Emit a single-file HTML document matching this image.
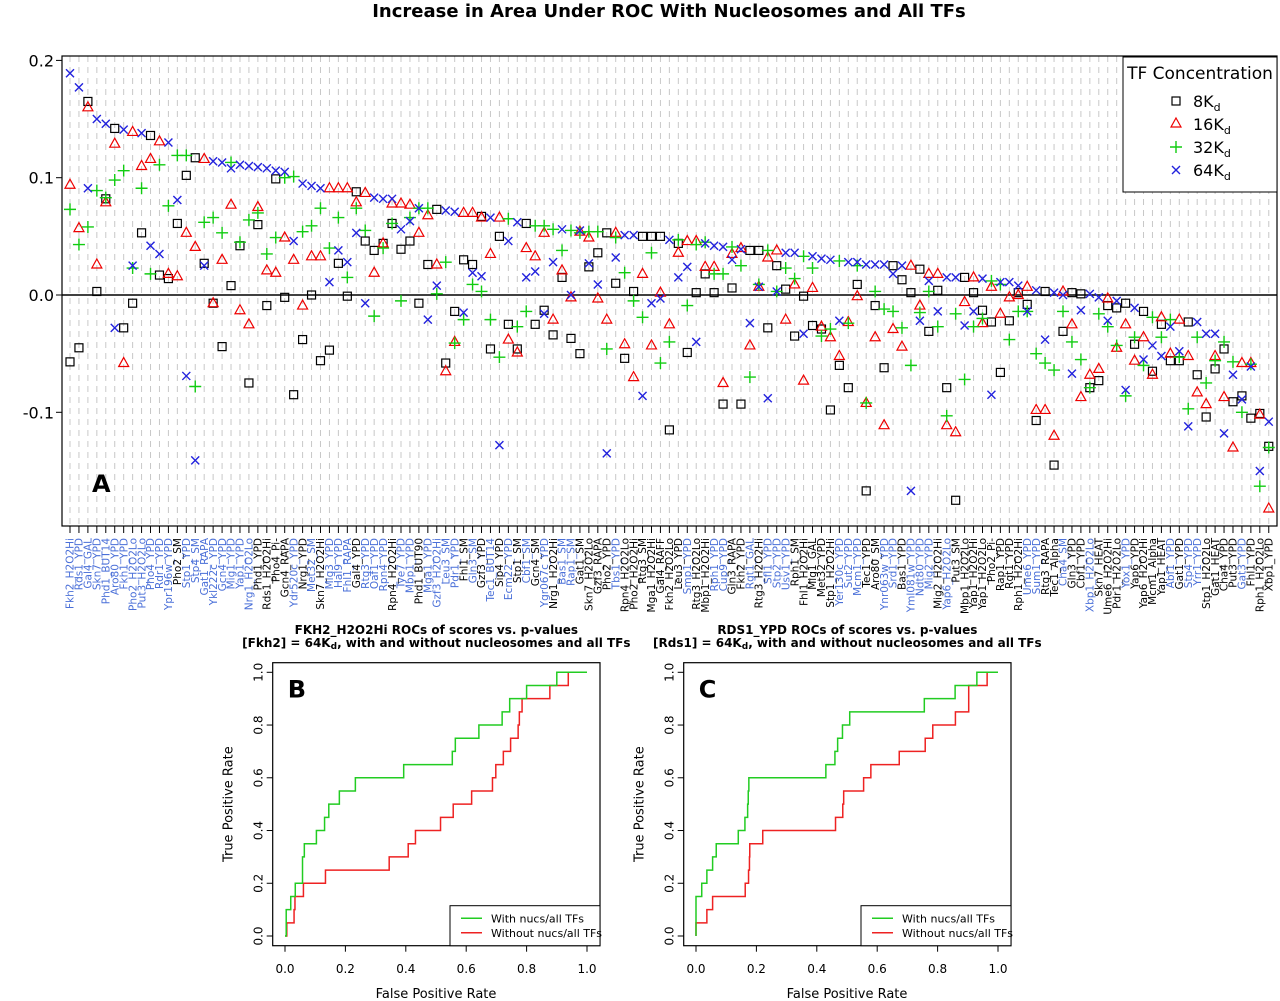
<!DOCTYPE html>
<html><head><meta charset="utf-8"><style>
html,body{margin:0;padding:0;background:#fff}
svg{display:block}
text{font-family:"DejaVu Sans","Liberation Sans",sans-serif}
</style></head><body>
<svg id="fig" width="1280" height="1001" viewBox="0 0 1280 1001" xmlns="http://www.w3.org/2000/svg">
<rect width="1280" height="1001" fill="#fff"/>
<text x="669" y="17" text-anchor="middle" font-size="18" font-weight="bold">Increase in Area Under ROC With Nucleosomes and All TFs</text>
<g id="panelA"></g>
<g id="legendA">
<rect x="1123" y="57" width="154" height="135" fill="#fff" stroke="#000" stroke-width="1"/>
<text x="1200" y="79" text-anchor="middle" font-size="17">TF Concentration</text>
<rect x="1172" y="97" width="8" height="8" fill="none" stroke="#000" stroke-width="1.2"/>
<text x="1193" y="107" font-size="16">8K<tspan font-size="11" dy="4">d</tspan></text>
<path d="M1176,118 L1181,127 L1171,127 Z" fill="none" stroke="#e00" stroke-width="1.2"/>
<text x="1193" y="130" font-size="16">16K<tspan font-size="11" dy="4">d</tspan></text>
<path d="M1170,147 H1182 M1176,141 V153" stroke="#1c1" stroke-width="1.4"/>
<text x="1193" y="153" font-size="16">32K<tspan font-size="11" dy="4">d</tspan></text>
<path d="M1172,166 L1180,174 M1180,166 L1172,174" stroke="#22d" stroke-width="1.4"/>
<text x="1193" y="176" font-size="16">64K<tspan font-size="11" dy="4">d</tspan></text>
</g>
<g id="panelB"></g>
<g id="panelC"></g>
</svg>
<script>
const labels=["Fkh2_H2O2Hi","Rds1_YPD","Gal4_GAL","Skn7_YPD","Phd1_BUT14","Aro80_YPD","Fkh1_YPD","Pho2_H2O2Lo","Put3_H2O2Lo","Pho4_YPD","Rdr1_YPD","Ypr196w_YPD","Pho2_SM","Stp1_YPD","Stp4_SM","Gat1_RAPA","Ykl222c_YPD","Gcn4_YPD","Mig1_YPD","Yap1_YPD","Nrg1_H2O2Lo","Phd1_YPD","Rds1_H2O2Hi","Pho4_Pi-","Gcn4_RAPA","Ydr520c_YPD","Nrg1_YPD","Met32_SM","Skn7_H2O2Hi","Mig3_YPD","Hal9_YPD","Fhl1_RAPA","Gal4_YPD","Rtg3_YPD","Oaf1_YPD","Rpn4_YPD","Rpn4_H2O2Hi","Tye7_YPD","Mbp1_YPD","Phd1_BUT90","Mga1_YPD","Gzf3_H2O2Hi","Leu3_SM","Pdr1_YPD","Fhl1_SM","Gln3_SM","Gzf3_YPD","Tec1_BUT14","Sip4_YPD","Ecm22_YPD","Stp1_SM","Cbf1_SM","Gcn4_SM","Ygr067c_YPD","Nrg1_H2O2Hi","Bas1_SM","Rap1_SM","Gat1_SM","Skn7_H2O2Lo","Gzf3_RAPA","Pho2_YPD","Tbs1_YPD","Rpn4_H2O2Lo","Pho2_H2O2Hi","Rtg3_SM","Mga1_H2O2Hi","Gal4_RAFF","Fkh2_H2O2Lo","Leu3_YPD","Smp1_YPD","Rtg3_H2O2Lo","Mbp1_H2O2Hi","Rph1_YPD","Cup9_YPD","Gln3_RAPA","Fkh2_YPD","Rgt1_GAL","Rtg3_H2O2Hi","Sfl1_YPD","Stp2_YPD","Usv1_YPD","Rph1_SM","Fhl1_H2O2Hi","Mig1_GAL","Met32_YPD","Stp1_H2O2Hi","Yer130c_YPD","Sut2_YPD","Mcm1_YPD","Tec1_YPD","Aro80_SM","Ynr063w_YPD","Srd1_YPD","Bas1_YPD","Yml081w_YPD","Ndt80_YPD","Mig2_YPD","Mig2_H2O2Hi","Yap6_H2O2Lo","Put3_SM","Mbp1_H2O2Lo","Yap1_H2O2Hi","Yap1_H2O2Lo","Pho2_Pi-","Rap1_YPD","Rgt1_YPD","Rph1_H2O2Hi","Ume6_YPD","Sum1_YPD","Rtg3_RAPA","Tec1_Alpha","Cha4_SM","Gln3_YPD","Cbf1_YPD","Xbp1_H2O2Lo","Skn7_HEAT","Ume6_H2O2Hi","Pdr1_H2O2Lo","Yox1_YPD","Yap6_YPD","Yap6_H2O2Hi","Mcm1_Alpha","Yap1_HEAT","Abf1_YPD","Gat1_YPD","Stp4_YPD","Yrr1_YPD","Stp1_H2O2Lo","Gat1_HEAT","Cha4_YPD","Put3_YPD","Gat3_YPD","Fhl1_YPD","Rph1_H2O2Lo","Xbp1_YPD"];
const labelBlue=[1,1,1,1,1,1,1,1,1,1,1,1,0,1,1,1,1,1,1,1,1,0,0,0,0,1,0,1,0,1,1,1,0,1,1,1,0,1,1,0,1,1,1,1,0,1,0,1,0,1,0,1,0,1,0,1,1,0,0,0,0,1,0,0,0,0,0,0,0,1,0,0,1,1,0,0,1,0,1,1,1,0,0,0,0,0,1,1,1,0,0,1,1,0,1,1,1,0,1,0,0,0,0,0,0,0,0,1,1,0,0,1,0,0,1,0,0,0,1,0,0,0,0,1,0,1,1,0,0,0,0,1,0,0,0];
const kd8=[-.057,-.045,.165,.003,.082,.142,-.028,-.007,.053,.136,.017,.014,.061,.102,.117,.027,-.007,-.044,.008,.042,-.075,.060,-.009,.099,-.002,-.085,-.038,.000,-.056,-.047,.027,-.001,.088,.046,.038,.044,.061,.039,.046,-.007,.026,.073,-.058,-.014,.030,.026,.067,-.046,.050,-.025,-.046,.061,-.025,-.013,-.034,.015,-.037,-.050,.024,.036,.053,.010,-.054,.003,.050,.050,.050,-.115,.044,-.049,.002,.018,.002,-.093,.006,-.093,.038,.038,-.028,.025,.005,-.035,-.001,-.026,-.029,-.098,-.060,-.079,.009,-.167,-.009,-.062,.025,.013,.002,.022,-.031,.004,-.079,-.175,.015,.002,-.013,-.023,-.066,-.022,.002,-.008,-.107,.003,-.145,-.031,.002,.001,-.079,-.073,-.009,-.011,-.007,-.042,-.014,-.065,-.025,-.056,-.056,-.023,-.068,-.104,-.063,-.046,-.091,-.086,-.105,-.101,-.129];
const kd16=[.094,.057,.160,.026,.079,.129,-.058,.139,.110,.116,.131,.018,.016,.053,.041,.116,-.007,.030,.077,-.013,-.025,.075,.021,.019,.049,.030,-.009,.033,.033,.091,.091,.091,.079,.087,.019,.044,.078,.078,.077,.053,.068,.026,-.065,-.040,.070,.070,.066,.035,.066,-.038,-.049,.040,.033,.053,-.021,.021,-.002,.054,.049,-.003,-.021,.053,-.042,-.070,.018,-.043,.002,-.025,.036,.046,.046,.024,.024,-.075,.035,.040,-.043,.007,.032,.038,-.021,.009,-.073,.006,-.027,-.036,-.052,-.023,-.001,-.092,-.036,-.111,-.029,-.044,.025,-.009,.018,.018,-.111,-.117,-.006,.015,-.024,.007,-.016,-.002,.000,.007,-.098,-.098,-.120,.003,-.025,-.087,-.068,-.063,-.003,-.045,-.025,-.056,-.036,-.068,-.019,-.050,-.021,-.052,-.083,-.093,-.052,-.087,-.130,-.058,-.058,-.102,-.182];
const kd32=[.073,.043,.058,.089,.083,.098,.106,.023,.091,.018,.111,.076,.119,.119,-.078,.062,.066,.053,.113,.045,.064,.070,.035,.049,.100,.101,.054,.059,.074,.040,.066,.015,.074,.055,-.018,.040,.061,-.005,.066,.074,.074,.001,.028,-.041,-.021,.009,.003,-.021,-.053,.065,-.027,-.014,.059,.059,.056,.038,.055,.053,.054,.054,-.046,.049,.019,-.005,-.019,.036,-.058,-.040,.047,-.009,.043,.045,.018,.018,.041,.025,-.070,.009,.038,.003,.023,.014,.033,.023,-.035,-.029,.029,-.024,.025,-.092,.003,-.012,-.014,-.028,-.060,-.015,.003,-.027,-.103,-.016,-.072,-.027,-.020,.012,.009,-.038,-.014,-.014,-.050,-.058,-.064,-.014,-.040,-.055,-.079,-.016,-.027,-.043,-.086,-.036,-.060,-.019,-.036,-.021,-.053,-.097,-.036,-.075,-.056,-.040,-.057,-.100,-.059,-.163,-.130];
const kd64=[.189,.177,.091,.150,.146,-.028,.141,.025,.138,.042,.035,.130,.081,-.069,-.141,.025,.114,.113,.108,.111,.110,.109,.108,.106,.105,.046,.095,.093,.091,.011,.038,.028,.053,-.007,.083,.082,.082,.056,.063,.074,-.021,.008,.072,.071,-.015,.019,.016,.066,-.128,.046,.062,.015,.020,-.016,.028,.056,.000,.055,.027,.009,-.135,.032,.051,.051,-.086,-.007,-.003,.047,.015,.024,-.040,.044,.042,.041,.030,.039,-.024,.007,-.088,.003,.036,.036,-.033,.033,.031,.030,-.022,.028,.028,.026,.026,.026,.018,.025,-.167,-.022,.012,-.014,.015,.015,-.026,-.014,.014,-.085,.011,.011,.008,-.014,.004,-.038,.002,.000,-.067,-.013,.001,-.002,-.022,-.005,-.081,-.011,-.055,-.043,-.052,-.027,-.048,-.112,-.023,-.033,-.033,-.118,-.068,-.089,-.061,-.150,-.108];
const yTicksA=[0.2,0.1,0.0,-0.1];
const yTickLabelsA=["0.2","0.1","0.0","-0.1"];
const rocTicks=[0,0.2,0.4,0.6,0.8,1.0];
const rocTickLabels=["0.0","0.2","0.4","0.6","0.8","1.0"];
const bWithFpr=[.004,.019,.034,.058,.064,.104,.131,.145,.18,.233,.393,.554,.564,.642,.719,.744,.8,.9];
const bWithTpr=[.1,.15,.2,.3,.35,.4,.45,.5,.55,.6,.65,.7,.75,.8,.85,.9,.95,1];
const bWithoutFpr=[.006,.03,.033,.061,.134,.345,.408,.432,.515,.557,.618,.687,.698,.723,.747,.772,.776,.785,.877,.938];
const bWithoutTpr=[.05,.1,.15,.2,.25,.3,.35,.4,.45,.5,.55,.6,.65,.7,.75,.8,.85,.9,.95,1];
const cWithFpr=[0,.019,.036,.055,.067,.14,.162,.171,.173,.175,.43,.46,.469,.485,.509,.756,.858,.93];
const cWithTpr=[.15,.2,.25,.3,.35,.4,.45,.5,.55,.6,.65,.7,.75,.8,.85,.9,.95,1];
const cWithoutFpr=[0,.036,.055,.163,.174,.177,.178,.221,.462,.486,.489,.555,.579,.673,.759,.784,.859,.903,.964];
const cWithoutTpr=[.05,.1,.15,.2,.25,.3,.35,.4,.45,.5,.55,.6,.65,.7,.75,.8,.85,.95,1];

const NS="http://www.w3.org/2000/svg";
function mk(tag,attrs,parent){const e=document.createElementNS(NS,tag);for(const k in attrs)e.setAttribute(k,attrs[k]);parent.appendChild(e);return e;}
const A=document.getElementById('panelA');
const L=62,R=1277,T=56,B=526;
const xA=i=>70+8.946*i;
const yA=v=>295-v*1173;
for(let i=0;i<labels.length;i++){
  const g=mk('line',{x1:xA(i),x2:xA(i),y1:T,y2:B,stroke:'#c8c8c8','stroke-dasharray':'6,5','stroke-width':1},A);
  
  
}
const zl=mk('line',{x1:L,x2:R,y1:yA(0),y2:yA(0),stroke:'#000','stroke-width':1.5},A);


yTicksA.forEach((v,k)=>{
  mk('line',{x1:L-6,x2:L,y1:yA(v),y2:yA(v),stroke:'#000'},A);
  const t=mk('text',{x:L-8,y:yA(v)+6,'text-anchor':'end','font-size':16},A);
  t.textContent=yTickLabelsA[k];
  
  
});
labels.forEach((lab,i)=>{
  const x=xA(i);
  mk('line',{x1:x,x2:x,y1:B,y2:B+7,stroke:'#000'},A);
  const t=mk('text',{x:0,y:0,transform:`translate(${x+3.7},538) rotate(-90)`,'text-anchor':'end','font-size':10.5,'font-family':'Liberation Sans, sans-serif',fill:labelBlue[i]?'#4a6fd8':'#000'},A);
  t.textContent=lab;
  
  
});
const box=mk('rect',{x:L,y:T,width:R-L,height:B-T,fill:'none',stroke:'#000','stroke-width':1.2},A);


const la=mk('text',{x:92,y:492,'font-size':24,'font-weight':'bold'},A);
la.textContent='A';


function pts(arr,kind){
  arr.forEach((v,i)=>{
    const x=xA(i),y=yA(v);let e;
    if(kind==='sq')e=mk('rect',{x:x-4,y:y-4,width:8,height:8,fill:'none',stroke:'#000','stroke-width':1.2},A);
    else if(kind==='tri')e=mk('path',{d:`M${x},${y-5.5} L${x+5},${y+3.5} L${x-5},${y+3.5} Z`,fill:'none',stroke:'#e00','stroke-width':1.2},A);
    else if(kind==='pl')e=mk('path',{d:`M${x-6},${y} H${x+6} M${x},${y-6} V${y+6}`,stroke:'#1c1','stroke-width':1.4},A);
    else e=mk('path',{d:`M${x-4},${y-4} L${x+4},${y+4} M${x+4},${y-4} L${x-4},${y+4}`,stroke:'#22d','stroke-width':1.4},A);
    
    
  });
}
pts(kd8,'sq');pts(kd16,'tri');pts(kd32,'pl');pts(kd64,'x');

function roc(gid,left,title1,prot,letter,wf,wt,of,ot){
  const G=document.getElementById(gid);
  const bl=left-12.3,br=left+315,bt=662.7,bb=945.7;
  const xs=f=>left+302*f, ys=t=>936-263.7*t;
  const cx=(bl+br)/2;
  const t1=mk('text',{x:cx,y:634,'text-anchor':'middle','font-size':12,'font-weight':'bold'},G);
  t1.textContent=title1;
  
  
  const t2=mk('text',{x:cx,y:647,'text-anchor':'middle','font-size':12,'font-weight':'bold'},G);
  t2.innerHTML='['+prot+'] = 64K<tspan font-size="9" dy="2">d</tspan><tspan dy="-2">, with and without nucleosomes and all TFs</tspan>';
  
  
  rocTicks.forEach((v,k)=>{
    mk('line',{x1:xs(v),x2:xs(v),y1:bb,y2:bb+6,stroke:'#000'},G);
    const a=mk('text',{x:xs(v),y:973,'text-anchor':'middle','font-size':12},G);
    a.textContent=rocTickLabels[k];
    
    
    mk('line',{x1:bl-6,x2:bl,y1:ys(v),y2:ys(v),stroke:'#000'},G);
    const b=mk('text',{x:0,y:0,transform:`translate(${bl-10},${ys(v)}) rotate(-90)`,'text-anchor':'middle','font-size':12},G);
    b.textContent=rocTickLabels[k];
    
    
  });
  const xl=mk('text',{x:xs(0.5),y:998,'text-anchor':'middle','font-size':13},G);
  xl.textContent='False Positive Rate';
  
  
  const yl=mk('text',{x:0,y:0,transform:`translate(${bl-40},${ys(0.5)}) rotate(-90)`,'text-anchor':'middle','font-size':13},G);
  yl.textContent='True Positive Rate';
  
  
  function stair(fs,ts,col,name){
    let d=`M${xs(0)},${ys(0)}`;
    fs.forEach((f,k)=>{d+=` H${xs(f)} V${ys(ts[k])}`;});
    d+=` H${xs(1)}`;
    const p=mk('path',{d:d,fill:'none',stroke:col,'stroke-width':1.5},G);
    
    
  }
  stair(of,ot,'#e22','roc-line-without');
  stair(wf,wt,'#2c2','roc-line-with');
  const bx=mk('rect',{x:bl,y:bt,width:br-bl,height:bb-bt,fill:'none',stroke:'#000','stroke-width':1.2},G);
  
  
  const lt=mk('text',{x:bl+15,y:bt+35,'font-size':24,'font-weight':'bold'},G);
  lt.textContent=letter;
  
  
  const lg=mk('g',{},G);
  
  
  mk('rect',{x:br-150,y:905.7,width:150,height:40,fill:'#fff',stroke:'#000'},lg);
  mk('line',{x1:br-139,x2:br-118,y1:918.3,y2:918.3,stroke:'#2c2','stroke-width':1.5},lg);
  mk('line',{x1:br-139,x2:br-118,y1:932.7,y2:932.7,stroke:'#e22','stroke-width':1.5},lg);
  const e1=mk('text',{x:br-109,y:922.5,'font-size':11,'font-family':'Liberation Sans'},lg);
  e1.textContent='With nucs/all TFs';
  
  
  const e2=mk('text',{x:br-109,y:937,'font-size':11,'font-family':'Liberation Sans'},lg);
  e2.textContent='Without nucs/all TFs';
  
  
}
roc('panelB',285,'FKH2_H2O2Hi ROCs of scores vs. p-values','Fkh2','B',bWithFpr,bWithTpr,bWithoutFpr,bWithoutTpr);
roc('panelC',696,'RDS1_YPD ROCs of scores vs. p-values','Rds1','C',cWithFpr,cWithTpr,cWithoutFpr,cWithoutTpr);
</script>
</body></html>
